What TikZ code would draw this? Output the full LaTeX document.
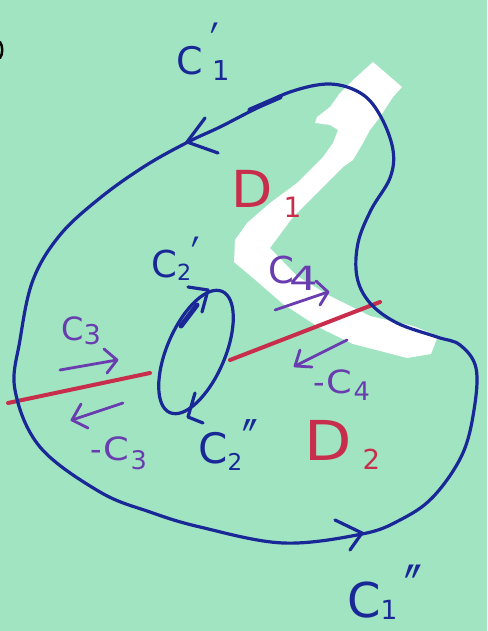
\documentclass[tikz,border=0pt]{standalone}
\usepackage{fontspec}
\usepackage{graphicx}
\newfontfamily\hand{DejaVu Sans}
\definecolor{bg}{RGB}{160,228,194}
\definecolor{navy}{RGB}{25,40,150}
\definecolor{redl}{RGB}{200,45,75}
\definecolor{purp}{RGB}{105,60,175}
\newcommand{\lsub}[3]{\raisebox{-#2}{\scalebox{#3}{#1}}}
\newcommand{\lpr}[2]{\raisebox{#2}{\scalebox{1}[1.5]{#1}}}
\begin{document}
\begin{tikzpicture}[x=1pt,y=-1pt,line cap=round,line join=round,
  blueline/.style={draw=navy,line width=3.2pt},
  redline/.style={draw=redl,line width=4pt},
  purpline/.style={draw=purp,line width=2.8pt},
  lbl/.style={anchor=base west,inner sep=0pt}]
\fill[bg] (0,0) rectangle (487,631);
\useasboundingbox (0,0) rectangle (487,631);
% fragment at the left edge
\draw[black,line width=2.5pt] (0,42) .. controls (3,46) and (3,54) .. (0,58);
% white band
\fill[white] (373,62) -- (402,87) -- (393,97) -- (380,117) -- (370,130) -- (363,143)
  -- (353,160) -- (343,167) -- (320,190) -- (293,217) -- (270,248) -- (297,276)
  -- (330,296) -- (370,316) -- (413,326) -- (438,336) -- (431,354) -- (407,358)
  -- (353,344) -- (320,328) -- (283,304) -- (253,278) -- (234,262) -- (235,240)
  -- (247,223) -- (270,203) -- (297,183) -- (323,157) -- (333,143) -- (338,130)
  -- (330,125) -- (315,123) -- (317,117) -- (330,107) -- (340,93) -- (353,80)
  -- cycle;
% red cut line
\draw[redline] (8,403) -- (150,373);
\draw[redline] (230,360) -- (380,302);
% outer curve
\draw[blueline] plot[smooth cycle,tension=0.6] coordinates {
  (330,84) (362,94) (381,117) (393,150) (390,178) (371,210) (358,243) (357,277)
  (370,303) (397,323) (437,337) (460,345) (476,368) (474,410) (462,455) (433,497)
  (400,520) (362,534) (283,543) (200,527) (150,512) (100,492) (40,447) (15,390)
  (20,340) (33,280) (60,235) (100,198) (145,166) (188,142) (220,127) (253,110) (290,92)};
\draw[blueline] (205,118) -- (187,142) -- (218,153);
\draw[blueline] (335,520) -- (362,533) -- (350,550);
\draw[navy,line width=5pt] (250,110) -- (280,97);
% inner ellipse
\draw[blueline,rotate around={66.7:(196,352)}] (196,352) ellipse [x radius=66,y radius=29];
\draw[blueline] (188,287) -- (208,290) -- (202,312);
\draw[navy,line width=5pt] (181,326) -- (197,305);
\draw[blueline] (195,393) -- (188,417) -- (203,423);
% purple arrows
\draw[purpline] (60,370) -- (117,360);
\draw[purpline] (104,349) -- (117,360) -- (107,373);
\draw[purpline] (123,403) -- (72,420);
\draw[purpline] (81,404) -- (72,420) -- (88,428);
\draw[purpline] (275,310) -- (328,292);
\draw[purpline] (316,281) -- (328,292) -- (320,305);
\draw[purpline] (347,340) -- (295,366);
\draw[purpline] (300,350) -- (295,366) -- (312,367);
% labels
\node[lbl,text=navy,font=\hand\fontsize{38}{38}\selectfont] (c1p) at (176,75)
  {C\kern0.25em\lsub{1}{0.15em}{0.72}\kern-0.5em\lpr{′}{0.28em}};
\node[lbl,text=redl,font=\hand\fontsize{51}{51}\selectfont] (d1) at (231,207)
  {\scalebox{1.05}[1]{D}\kern0.22em\lsub{1}{0.2em}{0.55}};
\node[lbl,text=navy,font=\hand\fontsize{37}{37}\selectfont] (c2p) at (151,277)
  {C\lsub{2}{0.1em}{0.6}\lpr{′}{0em}};
\node[lbl,text=purp,font=\hand\fontsize{37}{37}\selectfont] (c4) at (268,283)
  {C\kern-0.12em\lsub{\scalebox{1.35}[1]{4}}{0.2em}{0.9}};
\node[lbl,text=purp,font=\hand\fontsize{32}{32}\selectfont] (c3) at (61,340)
  {C\lsub{3}{0.15em}{0.85}};
\node[lbl,text=purp,font=\hand\fontsize{32}{32}\selectfont] (mc3) at (90,460)
  {-\kern0.05em\scalebox{1.15}[1]{C}\kern0.05em\lsub{3}{0.3em}{0.8}};
\node[lbl,text=navy,font=\hand\fontsize{42}{42}\selectfont] (c2pp) at (198,463)
  {C\lsub{2}{0.17em}{0.55}\lpr{″}{-0.05em}};
\node[lbl,text=redl,font=\hand\fontsize{55}{55}\selectfont] (d2) at (304,460)
  {\scalebox{1.12}[1]{D}\kern0.2em\lsub{2}{0.18em}{0.5}};
\node[lbl,text=purp,font=\hand\fontsize{32}{32}\selectfont] (mc4) at (313,393)
  {-\kern0.05em\scalebox{1.15}[1]{C}\kern0.05em\lsub{4}{0.22em}{0.8}};
\node[lbl,text=navy,font=\hand\fontsize{48}{48}\selectfont] (c1pp) at (347,617)
  {C\lsub{1}{0.06em}{0.55}\kern0.15em\lpr{″}{0em}};
\end{tikzpicture}
\end{document}
